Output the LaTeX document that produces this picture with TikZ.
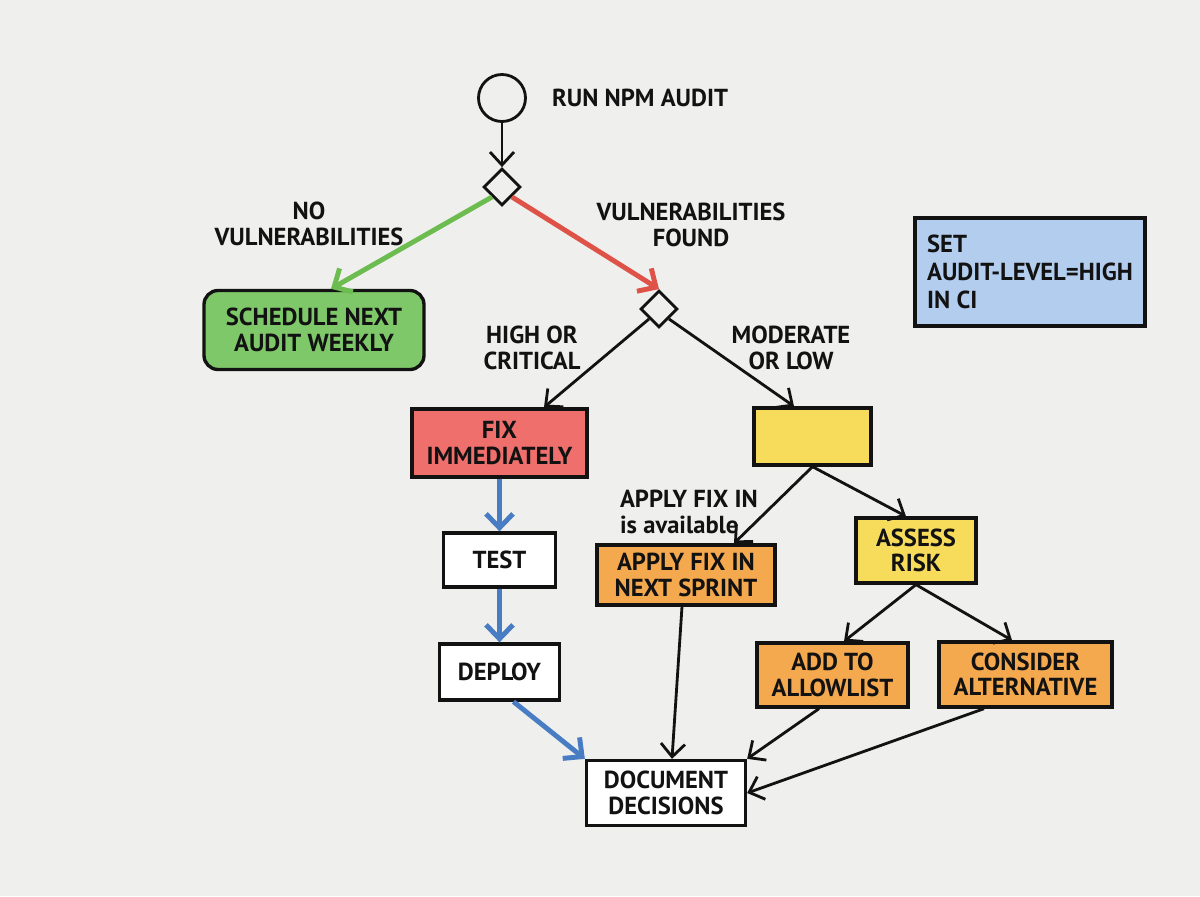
\documentclass[tikz,border=0pt]{standalone}
\usepackage{fontspec}
\setmainfont{PT Sans}
\usetikzlibrary{arrows.meta,positioning,shapes.geometric}
\definecolor{paper}{RGB}{239,239,237}
\definecolor{inkblack}{RGB}{18,18,18}
\definecolor{softgreen}{RGB}{126,200,106}
\definecolor{softred}{RGB}{238,111,108}
\definecolor{softyellow}{RGB}{247,220,92}
\definecolor{softorange}{RGB}{245,169,79}
\definecolor{softblue}{RGB}{179,205,238}
\definecolor{arrowgreen}{RGB}{108,188,80}
\definecolor{arrowred}{RGB}{222,82,72}
\definecolor{arrowblue}{RGB}{72,125,196}

\begin{document}
\begin{tikzpicture}[
    on grid,
    every node/.style={font=\fontsize{14}{14.5}\selectfont\bfseries, text=inkblack},
    box/.style={draw=inkblack, line width=1.9pt, align=center, inner sep=2pt},
    decision/.style={draw=inkblack, diamond, line width=1.6pt, minimum size=0.74cm, inner sep=0pt},
    startnode/.style={draw=inkblack, circle, line width=1.6pt, minimum size=0.94cm, inner sep=0pt},
    lbl/.style={inner sep=1pt, align=center},
    line/.style={draw=inkblack, line width=1.6pt, -{Straight Barb[length=2.6mm,width=4.8mm]}},
    colarrow/.style={line width=2.8pt, -{Straight Barb[length=2.8mm,width=5.4mm]}}
  ]
    \fill[paper] (-10.04,1.96) rectangle (13.96,-15.96);
    \useasboundingbox (-10.04,1.96) rectangle (13.96,-15.96);

    % start and first check
    \node[startnode] (start) {};
    \node[lbl, right=0.46cm of start.east, anchor=west] (runlbl) {RUN NPM AUDIT};
    \node[decision, below=1.78cm of start] (d1) {};
    \node[box, rounded corners=8pt, fill=softgreen, minimum width=4.4cm, minimum height=1.58cm, below left=2.86cm and 3.76cm of d1] (sched) {SCHEDULE NEXT\\AUDIT WEEKLY};
    \node[decision, below right=2.44cm and 3.14cm of d1] (d2) {};
    \node[lbl, below left=0.74cm and 3.86cm of d1] (nolbl) {NO\\VULNERABILITIES};
    \node[lbl, below right=0.76cm and 3.78cm of d1] (foundlbl) {VULNERABILITIES\\FOUND};

    % severity split
    \node[box, fill=softred, minimum width=3.5cm, minimum height=1.36cm, below left=2.68cm and 3.19cm of d2] (fix) {FIX\\IMMEDIATELY};
    \node[box, fill=softyellow, minimum width=2.34cm, minimum height=1.14cm, below right=2.55cm and 3.07cm of d2] (mod) {};
    \node[lbl, below left=0.78cm and 2.54cm of d2] (highlbl) {HIGH OR\\CRITICAL};
    \node[lbl, below right=0.78cm and 2.64cm of d2] (modlbl) {MODERATE\\OR LOW};

    \node[box, fill=white, minimum width=2.24cm, minimum height=1.08cm, below=2.34cm of fix] (test) {TEST};
    \node[box, fill=white, minimum width=2.4cm, minimum height=1.12cm, below=2.24cm of test] (deploy) {DEPLOY};

    \node[box, fill=softorange, minimum width=3.56cm, minimum height=1.2cm, below left=2.77cm and 2.53cm of mod] (sprint) {APPLY FIX IN\\NEXT SPRINT};
    \node[lbl, align=left, below left=1.51cm and 2.47cm of mod] (availlbl) {APPLY FIX IN\\is available};
    \node[box, fill=softyellow, minimum width=2.4cm, minimum height=1.3cm, below right=2.28cm and 2.07cm of mod] (assess) {ASSESS\\RISK};
    \node[box, fill=softorange, minimum width=3.02cm, minimum height=1.28cm, below left=2.49cm and 1.67cm of assess] (allow) {ADD TO\\ALLOWLIST};
    \node[box, fill=softorange, minimum width=3.46cm, minimum height=1.3cm, below right=2.48cm and 2.19cm of assess] (consider) {CONSIDER\\ALTERNATIVE};
    \node[box, fill=white, minimum width=3.18cm, minimum height=1.3cm, below=4.36cm of sprint, xshift=-0.4cm] (doc) {DOCUMENT\\DECISIONS};

    % side note
    \node[box, fill=softblue, align=left, minimum width=4.6cm, minimum height=2.16cm, below right=3.48cm and 10.56cm of start] (ci) {SET\\[1.5pt]AUDIT-LEVEL=HIGH\\[1.5pt]IN CI};

    % connectors
    \draw[line] (start) -- (d1);
    \draw[colarrow, arrowgreen] (d1.south west) -- ([xshift=0.34cm]sched.north);
    \draw[colarrow, arrowred] (d1.south east) -- (d2.north);
    \draw[line] (d2.south west) -- ([xshift=0.89cm]fix.north);
    \draw[line] (d2.south east) -- ([xshift=-0.37cm]mod.north);
    \draw[colarrow, arrowblue] (fix) -- (test);
    \draw[colarrow, arrowblue] (test) -- (deploy);
    \draw[colarrow, arrowblue] ([xshift=0.28cm]deploy.south) -- (doc.north west);
    \draw[line] (mod.south) -- ([xshift=0.96cm]sprint.north);
    \draw[line] (mod.south) -- ([xshift=-0.2cm]assess.north);
    \draw[line] (assess.south) -- ([xshift=0.23cm]allow.north);
    \draw[line] (assess.south) -- ([xshift=-0.27cm]consider.north);
    \draw[line] ([xshift=-0.08cm]sprint.south) -- ([xshift=0.12cm]doc.north);
    \draw[line] ([xshift=-0.27cm]allow.south) -- (doc.north east);
    \draw[line] ([xshift=-0.83cm]consider.south) -- (doc.east);
  \end{tikzpicture}
\end{document}
